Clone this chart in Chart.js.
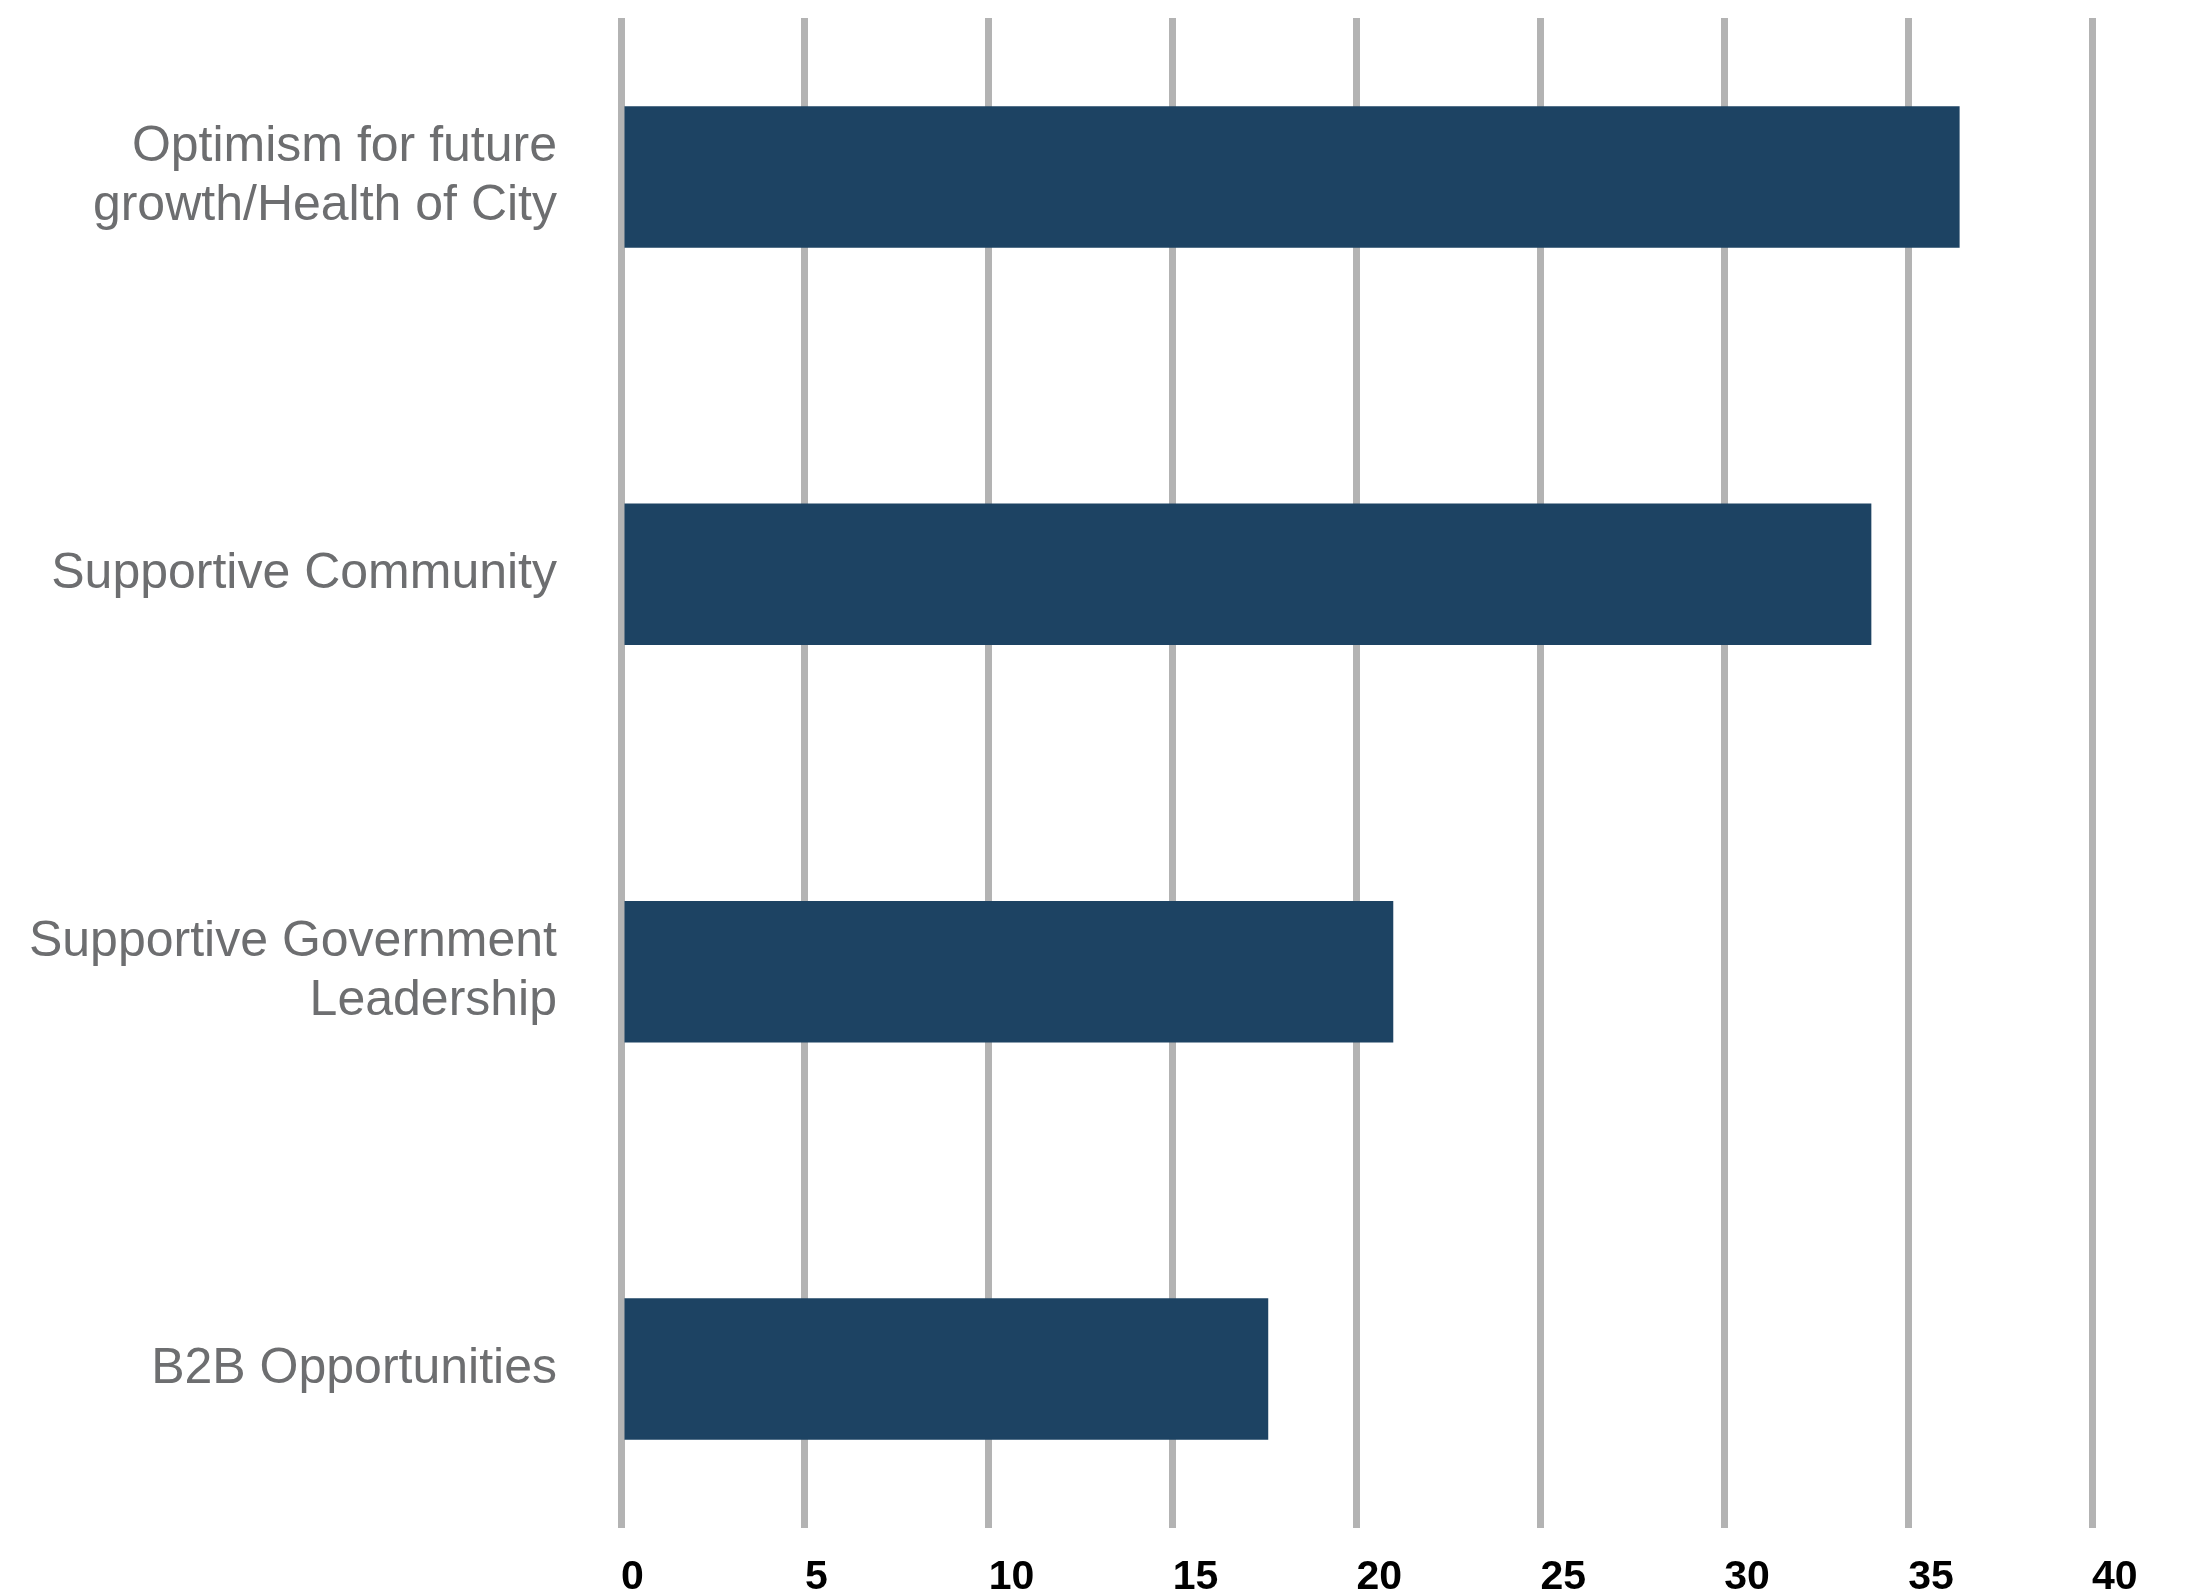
<!DOCTYPE html>
<html>
<head>
<meta charset="utf-8">
<script src="https://cdn.jsdelivr.net/npm/chart.js@4.4.1/dist/chart.umd.min.js"></script>
<style>
  html, body { margin: 0; padding: 0; background: #ffffff; }
  #wrap { width: 2194px; height: 1592px; }
</style>
</head>
<body>
<div id="wrap"><canvas id="chart" width="2194" height="1592"></canvas></div>
<script>
// categories, top to bottom
const categories = [
  ['Optimism for future', 'growth/Health of City'],
  'Supportive Community',
  ['Supportive Government', 'Leadership'],
  'B2B Opportunities'
];
const values = [36.4, 34.0, 21.0, 17.6];
const xTicks = [0, 5, 10, 15, 20, 25, 30, 35, 40];

const barColor = '#1d4363';
const gridColor = '#b3b3b3';

// y as linear index so the bands can run past the grid lines like in the original
const points = values.map((v, i) => ({ x: v, y: i }));

const ctx = document.getElementById('chart').getContext('2d');
new Chart(ctx, {
  type: 'bar',
  data: {
    datasets: [{
      data: points,
      backgroundColor: barColor,
      borderWidth: 0,
      categoryPercentage: 1,
      barPercentage: 0.356
    }]
  },
  options: {
    indexAxis: 'y',
    responsive: false,
    animation: false,
    layout: { padding: { top: 18, right: 102, bottom: 0, left: 0 } },
    plugins: { legend: { display: false }, tooltip: { enabled: false } },
    scales: {
      x: {
        type: 'linear',
        position: 'bottom',
        min: 0,
        max: 40,
        afterBuildTicks: s => { s.ticks = xTicks.map(v => ({ value: v })); },
        grid: { color: gridColor, lineWidth: 7, drawTicks: false },
        border: { display: false },
        ticks: {
          align: 'start',
          padding: 25,
          color: '#000000',
          font: { family: 'Liberation Sans', size: 41, weight: 'bold' }
        },
        afterFit: s => { s.height = 64; s.paddingLeft = 0; s.paddingRight = 0; }
      },
      y: {
        type: 'linear',
        offset: false,
        min: -0.4,
        max: 3.4,
        reverse: true,
        afterBuildTicks: s => { s.ticks = categories.map((c, i) => ({ value: i })); },
        grid: { display: false, offset: false },
        border: { display: false },
        ticks: {
          padding: 56,
          color: '#6d6e70',
          font: { family: 'Liberation Sans', size: 50, lineHeight: 1.18 },
          callback: v => categories[v]
        },
        afterFit: s => { s.width = 621; s.paddingTop = 0; s.paddingBottom = 0; }
      }
    }
  }
});
</script>
</body>
</html>
